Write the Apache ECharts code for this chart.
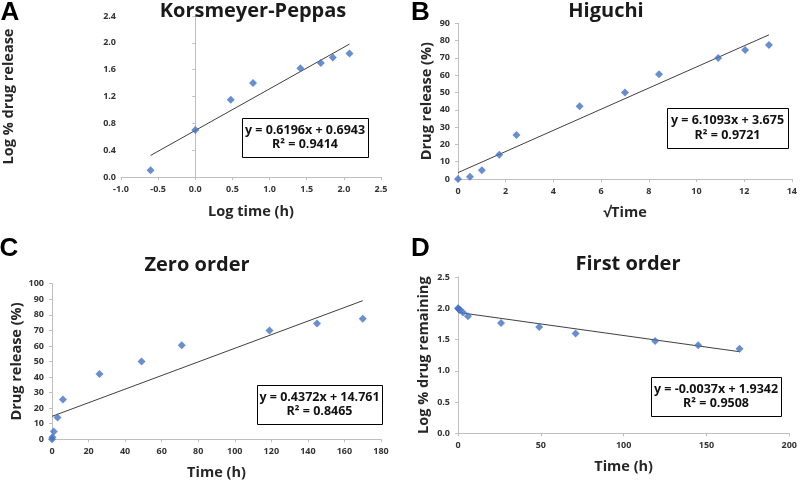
<!DOCTYPE html>
<html><head><meta charset="utf-8">
<script src="https://cdn.jsdelivr.net/npm/echarts@6/dist/echarts.min.js"></script>
<style>html,body{margin:0;padding:0;background:#fff}#c{width:800px;height:482px}</style>
</head><body><div id="c"></div>
<script>
// Panel A: Korsmeyer-Peppas
const kpLogTime = [-0.602, 0, 0.477, 0.778, 1.415, 1.690, 1.851, 2.076];
const kpLogRelease = [0.10, 0.70, 1.15, 1.40, 1.62, 1.70, 1.78, 1.84];
const kpFitX = [-0.602, 2.076];
const kpFitY = [0.321, 1.981];
// Panel B: Higuchi
const hgSqrtTime = [0, 0.5, 1, 1.73, 2.45, 5.10, 7.00, 8.43, 10.91, 12.04, 13.04];
const hgRelease = [0, 1.3, 5, 14, 25.5, 42, 50, 60.5, 70, 74.5, 77.5];
const hgFitX = [0, 13.04];
const hgFitY = [3.68, 83.34];
// Panel C: Zero order
const zoTime = [0, 0.25, 1, 3, 6, 26, 49, 71, 119, 145, 170];
const zoRelease = [0, 1.3, 5, 14, 25.5, 42, 50, 60.5, 70, 74.5, 77.5];
const zoFitX = [0, 170];
const zoFitY = [14.76, 89.09];
// Panel D: First order
const foTime = [0, 0.25, 1, 3, 6, 26, 49, 71, 119, 145, 170];
const foLogRemain = [2.00, 1.994, 1.978, 1.934, 1.872, 1.763, 1.70, 1.597, 1.477, 1.407, 1.352];
const foFitX = [0, 170];
const foFitY = [1.934, 1.305];

const titles = ['Korsmeyer-Peppas', 'Higuchi', 'Zero order', 'First order'];
const letters = ['A', 'B', 'C', 'D'];
const xNames = ['Log time (h)', '\u221ATime', 'Time (h)', 'Time (h)'];
const yNames = ['Log % drug release', 'Drug release (%)', 'Drug release (%)', 'Log % drug remaining'];
const equations = [
  ['y = 0.6196x + 0.6943', 'R\u00B2 = 0.9414'],
  ['y = 6.1093x + 3.675', 'R\u00B2 = 0.9721'],
  ['y = 0.4372x + 14.761', 'R\u00B2 = 0.8465'],
  ['y = -0.0037x + 1.9342', 'R\u00B2 = 0.9508']
];
const xRanges = [[-1, 2.5, 0.5], [0, 14, 2], [0, 180, 20], [0, 200, 50]];
const yRanges = [[0, 2.4, 0.4], [0, 90, 10], [0, 100, 10], [0, 2.5, 0.5]];

const FONT = 'Open Sans';
const AX = '#bfbfbf';
const TXT = '#262626';

const pts = (xs, ys) => xs.map((x, i) => [x, ys[i]]);
const scatterSets = [pts(kpLogTime, kpLogRelease), pts(hgSqrtTime, hgRelease), pts(zoTime, zoRelease), pts(foTime, foLogRemain)];
const fitSets = [pts(kpFitX, kpFitY), pts(hgFitX, hgFitY), pts(zoFitX, zoFitY), pts(foFitX, foFitY)];

const grids = [
  {left: 22.7, top: 16, width: 358.3, height: 161},
  {left: 458, top: 23.3, width: 336, height: 155.7},
  {left: 52, top: 283.7, width: 329, height: 155.6},
  {left: 458, top: 277, width: 332, height: 156.3}
];
const yNameGap = [105, 24, 28, 27];
const xNameGap = [27, 26, 26, 26];
const yLabelMargin = [5, 8, 8, 8];
const decimals = [[1, 1], [0, 0], [0, 0], [0, 1]];

const xAxis = [], yAxis = [], series = [];
for (let i = 0; i < 4; i++) {
  const common = {
    axisLine: {show: true, onZero: true, lineStyle: {color: AX, width: 1}},
    axisTick: {show: true, length: 3, lineStyle: {color: AX}},
    splitLine: {show: false},
    nameLocation: 'middle',
    nameTextStyle: {fontFamily: FONT, fontWeight: 'bold', fontSize: 14.5, color: TXT}
  };
  xAxis.push(Object.assign({}, common, {
    type: 'value', gridIndex: i,
    min: xRanges[i][0], max: xRanges[i][1], interval: xRanges[i][2],
    name: xNames[i], nameGap: xNameGap[i],
    axisLabel: {fontFamily: FONT, fontWeight: 'bold', fontSize: 9, color: '#333', margin: 8,
      formatter: (v) => v.toFixed(decimals[i][0])}
  }));
  yAxis.push(Object.assign({}, common, {
    type: 'value', gridIndex: i,
    min: yRanges[i][0], max: yRanges[i][1], interval: yRanges[i][2],
    name: yNames[i], nameGap: yNameGap[i],
    axisLabel: {fontFamily: FONT, fontWeight: 'bold', fontSize: 9, color: '#333', margin: yLabelMargin[i],
      formatter: (v) => v.toFixed(decimals[i][1])}
  }));
  series.push({
    type: 'line', xAxisIndex: i, yAxisIndex: i, data: fitSets[i],
    symbol: 'none', lineStyle: {color: '#404040', width: 1}, z: 2, silent: true
  });
  series.push({
    type: 'scatter', xAxisIndex: i, yAxisIndex: i, data: scatterSets[i],
    symbol: 'diamond', symbolSize: 8, itemStyle: {color: '#4472C4'}, z: 3
  });
}

const letterPos = [[10, 12.5], [420.5, 13], [9, 248.5], [420.5, 248.5]];
const titlePos = [[253, 11], [606, 11], [197, 265.5], [628, 264.5]];
const boxes = [
  [242, 118, 126, 39],
  [667, 108, 121, 40],
  [257, 385, 125, 39],
  [651, 377, 130, 39]
];

const graphic = [];
for (let i = 0; i < 4; i++) {
  graphic.push({type: 'text', x: letterPos[i][0], y: letterPos[i][1], z: 10,
    style: {text: letters[i], font: 'bold 26px "Liberation Sans"', fill: '#000', align: 'center', verticalAlign: 'middle'}});
  graphic.push({type: 'text', x: titlePos[i][0], y: titlePos[i][1], z: 10,
    style: {text: titles[i], font: 'bold 20px "' + FONT + '"', fill: '#1a1a1a', align: 'center', verticalAlign: 'middle'}});
  const b = boxes[i];
  graphic.push({type: 'rect', z: 10, shape: {x: b[0] + 0.5, y: b[1] + 0.5, width: b[2], height: b[3]},
    style: {fill: '#fff', stroke: '#000', lineWidth: 1}});
  graphic.push({type: 'text', z: 11, x: b[0] + b[2] / 2, y: b[1] + b[3] / 2,
    style: {text: equations[i].join('\n'), font: 'bold 12.5px "' + FONT + '"', lineHeight: 14.5,
      fill: '#111', align: 'center', verticalAlign: 'middle'}});
}

const chart = echarts.init(document.getElementById('c'), null, {renderer: 'canvas'});
chart.setOption({
  animation: false,
  backgroundColor: '#fff',
  grid: grids.map(g => Object.assign({containLabel: false}, g)),
  xAxis, yAxis, series, graphic
});
</script></body></html>
